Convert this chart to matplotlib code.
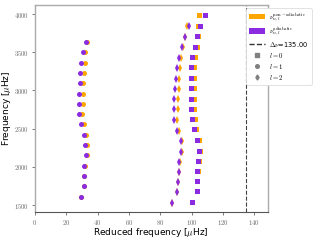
import matplotlib
matplotlib.use('Agg')
import matplotlib.pyplot as plt
from matplotlib.lines import Line2D
from matplotlib.patches import Patch
from matplotlib.ticker import FuncFormatter

plt.rcParams['mathtext.fontset'] = 'cm'

delta_nu = 135.00

# l = 0 modes (squares)
freq_l0 = [1543, 1683, 1818, 1948, 2078, 2213, 2353, 2492, 2620, 2760,
           2890, 3030, 3164, 3304, 3439, 3573, 3713, 3847, 3983]
red_l0_adi = [100.4, 103.4, 103.4, 103.6, 104.2, 104.5, 103.8, 101.7, 100.4, 99.4,
              99.4, 99.4, 99.4, 99.8, 100.6, 101.9, 103.8, 105.7, 108.5]
red_l0_nad = [100.6, 103.6, 103.7, 104.0, 104.8, 105.1, 104.7, 102.7, 101.9, 101.5,
              101.3, 101.5, 101.5, 101.5, 101.9, 103.2, 103.9, 104.0, 104.7]

# l = 1 modes (circles)
freq_l1 = [1611, 1745, 1881, 2016, 2150, 2286, 2420, 2555, 2691, 2825,
           2960, 3095, 3230, 3364, 3500, 3639]
red_l1_adi = [29.2, 31.1, 31.1, 31.5, 32.5, 32.3, 31.1, 29.4, 28.1, 28.3,
              28.1, 28.5, 28.7, 29.6, 30.8, 32.7]
red_l1_nad = [29.4, 31.3, 31.4, 32.0, 33.4, 33.4, 32.5, 31.3, 30.2, 30.4,
              30.4, 30.8, 31.1, 31.7, 32.3, 33.5]

# l = 2 modes (diamonds)
freq_l2 = [1521, 1670, 1805, 1935, 2065, 2200, 2336, 2474, 2616, 2756,
           2887, 3021, 3155, 3291, 3430, 3565, 3704, 3843]
red_l2_adi = [87.4, 90.6, 91.1, 91.7, 92.3, 93.4, 93.0, 90.8, 89.1, 89.1,
              89.1, 89.5, 89.8, 90.6, 92.1, 93.8, 95.7, 98.1]
red_l2_nad = [87.6, 90.8, 91.4, 92.0, 92.6, 93.8, 94.0, 92.1, 90.6, 91.3,
              91.5, 91.7, 91.9, 92.7, 93.2, 94.4, 95.9, 96.8]

orange = '#FFA500'
purple = '#8A2BE2'

fig = plt.figure(figsize=(3.2, 2.4), dpi=100)
ax = fig.add_axes([0.109, 0.117, 0.727, 0.862])

for red, freq, mk in [(red_l0_nad, freq_l0, 's'),
                      (red_l1_nad, freq_l1, 'o'),
                      (red_l2_nad, freq_l2, 'd')]:
    ax.plot(red, freq, mk, color=orange, ms=3.6, mew=0, ls='none')
for red, freq, mk in [(red_l0_adi, freq_l0, 's'),
                      (red_l1_adi, freq_l1, 'o'),
                      (red_l2_adi, freq_l2, 'd')]:
    ax.plot(red, freq, mk, color=purple, ms=3.6, mew=0, ls='none')

ax.axvline(delta_nu, color='#444444', ls='--', lw=0.8)

ax.set_xlim(0, 148.5)
ax.set_ylim(1410, 4118)
ax.set_xticks([0, 20, 40, 60, 80, 100, 120, 140])
ax.set_yticks([1500, 2000, 2500, 3000, 3500, 4000])
fmt = FuncFormatter(lambda v, p: f'${v:g}$')
ax.xaxis.set_major_formatter(fmt)
ax.yaxis.set_major_formatter(fmt)
ax.tick_params(labelsize=4.8, colors='#666666', length=2.5, width=0.6, pad=2)

for side in ['left', 'top', 'right']:
    ax.spines[side].set_color('#aaaaaa')
    ax.spines[side].set_linewidth(1.0)
ax.spines['bottom'].set_color('#555555')
ax.spines['bottom'].set_linewidth(0.8)

ax.set_xlabel(r'Reduced frequency [$\mu$Hz]', fontsize=6.5)
ax.set_ylabel(r'Frequency [$\mu$Hz]', fontsize=6.5)
ax.xaxis.set_label_coords(0.5, -0.068)
ax.yaxis.set_label_coords(-0.095, 0.5)

handles = [
    Patch(facecolor=orange, label=r'$\nu_{n,l}^{\rm non-adiabatic}$'),
    Patch(facecolor=purple, label=r'$\nu_{n,l}^{\rm adiabatic}$'),
    Line2D([0], [0], color='#333333', ls='--', lw=1.0, label=r'$\Delta\nu$=135.00'),
    Line2D([0], [0], marker='s', color='grey', ls='none', ms=2.6, label=r'$l=0$'),
    Line2D([0], [0], marker='o', color='grey', ls='none', ms=2.6, label=r'$l=1$'),
    Line2D([0], [0], marker='d', color='grey', ls='none', ms=2.6, label=r'$l=2$'),
]
leg = fig.legend(handles=handles, loc='upper left', bbox_to_anchor=(0.770, 0.965),
                 fontsize=4.8, framealpha=1, edgecolor='#dddddd',
                 handlelength=2.3, handleheight=0.9, labelspacing=0.3,
                 borderpad=0.45, handletextpad=0.7, borderaxespad=0)
leg.get_frame().set_linewidth(0.6)

fig.savefig('out.png', dpi=100)
